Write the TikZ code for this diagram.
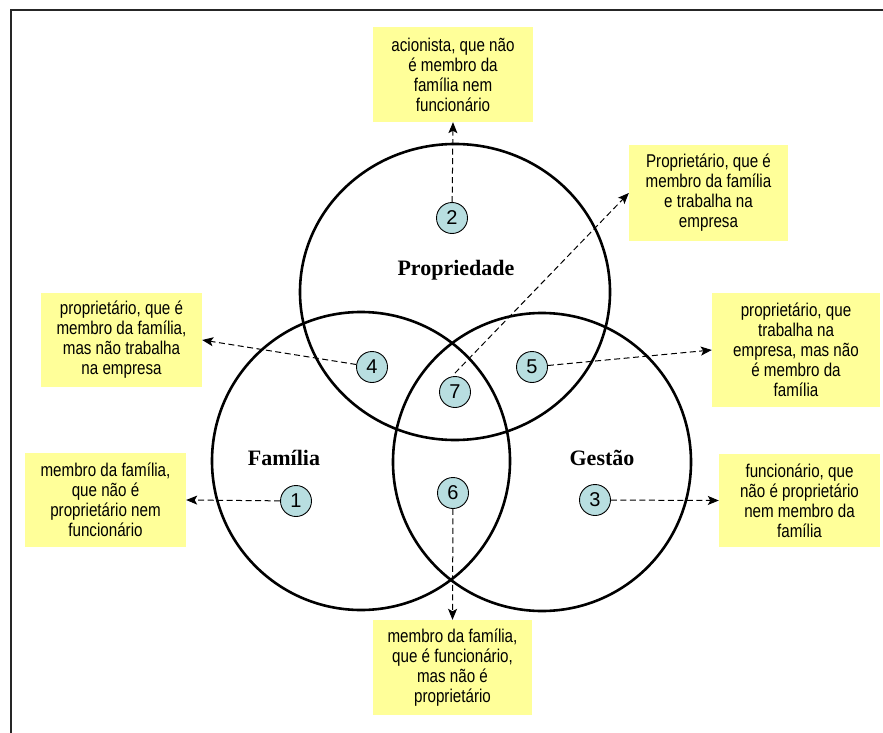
\documentclass[tikz,border=0pt]{standalone}
\usepackage{fontspec}
\setmainfont{Liberation Serif}
\newfontfamily\narrowsans[FakeStretch=0.82]{Liberation Sans}
\newfontfamily\plainsans{Liberation Sans}
\usetikzlibrary{arrows.meta}
\definecolor{noteyellow}{RGB}{255,255,153}
\definecolor{badgecyan}{RGB}{184,222,224}

\begin{document}
\begin{tikzpicture}[x=1pt,y=-1pt,
  setring/.style={draw=black, line width=2.6pt},
  setlabel/.style={font=\fontsize{22}{24}\selectfont\bfseries},
  badge/.style={circle, draw=black, line width=0.9pt, fill=badgecyan,
    minimum size=31pt, inner sep=0pt, font=\plainsans\fontsize{20}{20}\selectfont},
  note/.style={fill=noteyellow, inner sep=0pt, align=center,
    font=\narrowsans\fontsize{18.5}{20}\selectfont, text=black},
  pointer/.style={draw=black, line width=1pt, dash pattern=on 6pt off 3.5pt,
    -{Stealth[length=11pt,width=9pt,inset=2.5pt]}},
]
\fill[white] (0,0) rectangle (883,733);
\useasboundingbox (0,0) rectangle (883,733);

% page frame
\draw[line width=1.6pt, black!85] (11,733) -- (11,10) -- (883,10);

% the three sets
\draw[setring] (455,292) ellipse [x radius=155, y radius=148];
\draw[setring] (361,461) circle [radius=149];
\draw[setring] (542,462) circle [radius=149];

\node[setlabel] (lProp) at (456,270) {Propriedade};
\node[setlabel] (lFam) at (284,458) {Família};
\node[setlabel] (lGes) at (602,458) {Gestão};

% numbered regions
\node[badge] (b1) at (296,501) {1};
\node[badge] (b2) at (452,218) {2};
\node[badge] (b3) at (595,500) {3};
\node[badge] (b4) at (372,367) {4};
\node[badge] (b5) at (532,367) {5};
\node[badge] (b6) at (453,493) {6};
\node[badge] (b7) at (455,392) {7};

% explanatory notes
\node[note, minimum width=160pt, minimum height=95pt] (nTop) at (453,74.5)
  {acionista, que não\\é membro da\\família nem\\funcionário};
\node[note, minimum width=159pt, minimum height=96pt] (nTopRight) at (708.5,193)
  {Proprietário, que é\\membro da família\\e trabalha na\\empresa};
\node[note, minimum width=161pt, minimum height=94pt] (nLeftMid) at (121.5,340)
  {proprietário, que é\\membro da família,\\mas não trabalha\\na empresa};
\node[note, minimum width=168pt, minimum height=114pt] (nRightMid) at (796,350)
  {proprietário, que\\trabalha na\\empresa, mas não\\é membro da\\família};
\node[note, minimum width=161pt, minimum height=94pt] (nLeftLow) at (105.5,500)
  {membro da família,\\que não é\\proprietário nem\\funcionário};
\node[note, minimum width=161pt, minimum height=93pt] (nRightLow) at (799.5,500.5)
  {funcionário, que\\não é proprietário\\nem membro da\\família};
\node[note, minimum width=159pt, minimum height=95pt] (nBottom) at (452.5,667.5)
  {membro da família,\\que é funcionário,\\mas não é\\proprietário};

% pointers from regions to notes
\draw[pointer] (b2) -- (nTop.south);
\draw[pointer] ([yshift=3pt]b7.north) -- (nTopRight.west);
\draw[pointer] (b4) -- (nLeftMid.east);
\draw[pointer] (b5) -- (nRightMid.west);
\draw[pointer] (b1) -- (nLeftLow.east);
\draw[pointer] (b3) -- (nRightLow.west);
\draw[pointer] (b6) -- (nBottom.north);
\end{tikzpicture}
\end{document}
